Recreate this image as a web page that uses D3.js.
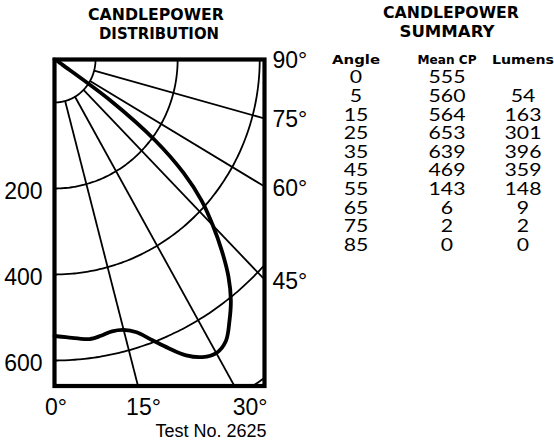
<!DOCTYPE html>
<html><head><meta charset="utf-8">
<script src="https://cdn.jsdelivr.net/npm/d3@7"></script>
<style>body{margin:0;background:#fff}</style>
</head><body>
<svg id="chart" width="554" height="442"></svg>
<script>
// ---------------- data ----------------
const tableAngles = [0, 5, 15, 25, 35, 45, 55, 65, 75, 85];
const tableMeanCP = [555, 560, 564, 653, 639, 469, 143, 6, 2, 0];
const tableLumens = [null, 54, 163, 301, 396, 359, 148, 9, 2, 0];
const tableHeaders = ["Angle", "Mean CP", "Lumens"];

// candlepower curve (angle from nadir, candela)
const curveAngles = [0, 2.5, 5, 7.5, 10, 12.5, 15, 17.5, 20, 22.5, 25, 27.5, 30, 32.5, 35, 37.5, 40, 42.5, 45, 47.5, 50, 52.5, 55, 57.5, 60, 65, 75, 85];
const curveCP     = [553, 556, 560, 564, 561, 557, 560, 572, 597, 625, 653, 671, 678, 668, 639, 607, 567, 519, 469, 418, 353, 266, 143, 20, 10, 6, 2, 0];

const ringValues = [0, 200, 400, 600, 800];
const ringLabels = [200, 400, 600];
const spokeAngles = [15, 30, 45, 60, 75];
const bottomAngleLabels = [0, 15, 30];
const rightAngleLabels = [90, 75, 60, 45];
const leftTitle = ["CANDLEPOWER", "DISTRIBUTION"];
const rightTitle = ["CANDLEPOWER", "SUMMARY"];
const testLabel = "Test No. 2625";

// ---------------- scales ----------------
const svg = d3.select("#chart");
const xScale = d3.scaleLinear().domain([0, 440]).range([54.5, 264.5]);   // horizontal candela
const yScale = d3.scaleLinear().domain([0, 653]).range([59.5, 386]);     // vertical candela
const ringRadius = d3.scaleLinear().domain([0, 800]).range([86, 774]);   // grid ring value -> candela radius
const rad = a => a * Math.PI / 180;
const px = (a, r) => xScale(r * Math.sin(rad(a)));
const py = (a, r) => yScale(r * Math.cos(rad(a)));

const [x0, x1] = xScale.range();
const [y0, y1] = yScale.range();

svg.append("clipPath").attr("id", "frameClip")
  .append("rect").attr("x", x0).attr("y", y0).attr("width", x1 - x0).attr("height", y1 - y0);

const grid = svg.append("g").attr("clip-path", "url(#frameClip)")
  .attr("fill", "none").attr("stroke", "#000").attr("stroke-width", 1.8);

// rings
const arcSteps = d3.range(0, 90.5, 1);
const ringLine = d3.line().curve(d3.curveCardinal);
ringValues.forEach(v => {
  const r = ringRadius(v);
  grid.append("path").attr("d", ringLine(arcSteps.map(a => [px(a, r), py(a, r)])));
});
// spokes
spokeAngles.forEach(a => {
  grid.append("line")
    .attr("x1", px(a, ringRadius(0))).attr("y1", py(a, ringRadius(0)))
    .attr("x2", px(a, 1400)).attr("y2", py(a, 1400));
});

// candlepower curve
const curvePts = curveAngles.map((a, i) => [px(a, curveCP[i]), py(a, curveCP[i])]);
svg.append("path")
  .attr("d", d3.line().curve(d3.curveCatmullRom.alpha(0.5))(curvePts))
  .attr("fill", "none").attr("stroke", "#000").attr("stroke-width", 3.8)
  .attr("stroke-linejoin", "round").attr("stroke-linecap", "round");

// frame
svg.append("rect").attr("x", x0).attr("y", y0).attr("width", x1 - x0).attr("height", y1 - y0)
  .attr("fill", "none").attr("stroke", "#000").attr("stroke-width", 4.2);

// ---------------- axis labels ----------------
const axisFont = "'Liberation Sans', Arial, sans-serif";
ringLabels.forEach(v => {
  svg.append("text").attr("x", x0 - 12).attr("y", py(0, ringRadius(v)) + 2)
    .attr("text-anchor", "end").attr("dominant-baseline", "central")
    .attr("font-family", axisFont).attr("font-size", 23).text(v);
});
bottomAngleLabels.forEach((a, i) => {
  const last = i === bottomAngleLabels.length - 1;
  const x = last ? x1 + 3 : x0 + (y1 - y0) * Math.tan(rad(a)) + 1.5;
  svg.append("text").attr("x", x).attr("y", 415)
    .attr("text-anchor", last ? "end" : "middle")
    .attr("font-family", axisFont).attr("font-size", 23).text(a + "°");
});
rightAngleLabels.forEach(a => {
  let y;
  if (a === 90) y = y0;
  else { const r = xScale.invert(x1) / Math.sin(rad(a)); y = py(a, r) + 1; }
  svg.append("text").attr("x", x1 + 8).attr("y", y)
    .attr("dominant-baseline", "central")
    .attr("font-family", axisFont).attr("font-size", 23).text(a + "°");
});
svg.append("text").attr("x", x1 + 2).attr("y", 437).attr("text-anchor", "end")
  .attr("font-family", axisFont).attr("font-size", 18).text(testLabel);

// ---------------- titles ----------------
const boldFont = "'DejaVu Sans', sans-serif";
const titleWidths = { "CANDLEPOWER": 136, "DISTRIBUTION": 120, "SUMMARY": 95 };
leftTitle.forEach((t, i) => {
  svg.append("text").attr("x", i ? 159 : 156).attr("y", i ? 39.3 : 19.5)
    .attr("text-anchor", "middle").attr("font-family", boldFont).attr("font-weight", "bold")
    .attr("font-size", 15).attr("textLength", titleWidths[t]).attr("lengthAdjust", "spacingAndGlyphs").text(t);
});
rightTitle.forEach((t, i) => {
  svg.append("text").attr("x", i ? 447 : 451).attr("y", i ? 36.7 : 18.3)
    .attr("text-anchor", "middle").attr("font-family", boldFont).attr("font-weight", "bold")
    .attr("font-size", 15).attr("textLength", titleWidths[t]).attr("lengthAdjust", "spacingAndGlyphs").text(t);
});

// ---------------- table ----------------
const colX = d3.scaleOrdinal().domain(tableHeaders).range([356, 447, 523]);
const headerWidths = { "Angle": 48, "Mean CP": 59, "Lumens": 62 };
tableHeaders.forEach(h => {
  svg.append("text").attr("x", colX(h)).attr("y", 64)
    .attr("text-anchor", "middle").attr("font-family", boldFont).attr("font-weight", "bold")
    .attr("font-size", 11.5).attr("textLength", headerWidths[h]).attr("lengthAdjust", "spacingAndGlyphs").text(h);
});
const rowY = d3.scalePoint().domain(tableAngles).range([83.3, 251]);
const cellFont = "Lato, 'DejaVu Sans', sans-serif";
tableAngles.forEach((a, i) => {
  const cells = [a, tableMeanCP[i], tableLumens[i]];
  cells.forEach((v, j) => {
    if (v === null) return;
    const s = String(v);
    svg.append("text").attr("x", colX(tableHeaders[j])).attr("y", rowY(a))
      .attr("text-anchor", "middle").attr("font-family", cellFont).attr("font-size", 16.5)
      .attr("textLength", s.length * 12.3).attr("lengthAdjust", "spacingAndGlyphs").text(s);
  });
});
</script>
</body></html>
